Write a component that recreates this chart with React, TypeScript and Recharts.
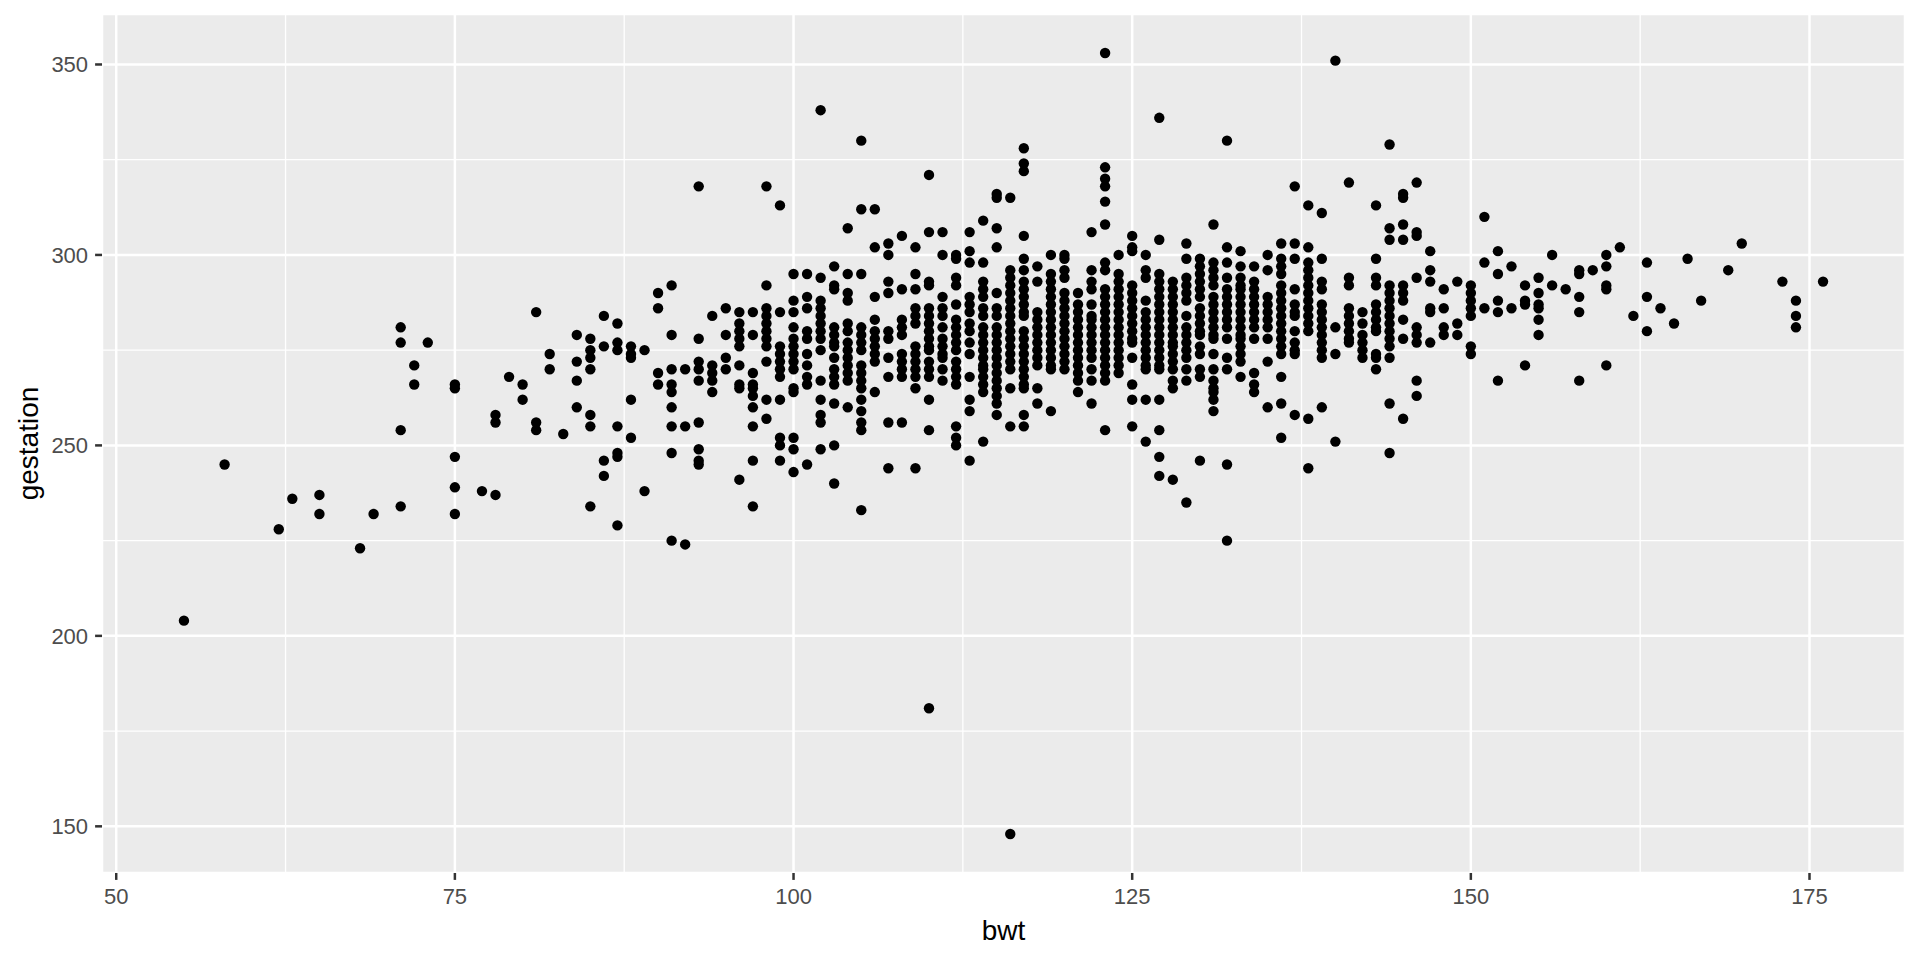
import React from 'react';
import { ScatterChart, Scatter, XAxis, YAxis, CartesianGrid, Label } from 'recharts';

// Birth weight (oz) columns and the gestation values (days) read in each column
const bwtValues = [
  55, 58, 62, 63, 65, 68, 69, 71, 72, 73, 75, 77, 78, 79, 80, 81, 82, 83, 84, 85,
  86, 87, 88, 89, 90, 91, 92, 93, 94, 95, 96, 97, 98, 99, 100, 101, 102, 103, 104, 105,
  106, 107, 108, 109, 110, 111, 112, 113, 114, 115, 116, 117, 118, 119, 120, 121, 122, 123, 124, 125,
  126, 127, 128, 129, 130, 131, 132, 133, 134, 135, 136, 137, 138, 139, 140, 141, 142, 143, 144, 145,
  146, 147, 148, 149, 150, 151, 152, 153, 154, 155, 156, 157, 158, 159, 160, 161, 162, 163, 164, 165,
  166, 167, 169, 170, 173, 174, 176,
];

const gestationValues: number[][] = [
  [204], [245], [228], [236], [237, 232], [223], [232], [281, 277, 254, 234], [271, 266], [277],
  [266, 265, 247, 239, 232], [238], [258, 256, 237], [268], [266, 262], [285, 256, 254], [274, 270], [253],
  [279, 272, 267, 260],
  [278, 275, 273, 270, 258, 255, 234],
  [284, 276, 246, 242],
  [282, 277, 275, 255, 248, 247, 229],
  [276, 274, 273, 262, 252],
  [275, 238],
  [290, 286, 269, 266],
  [292, 279, 270, 266, 264, 260, 255, 248, 225],
  [270, 255, 224],
  [318, 278, 272, 270, 267, 256, 249, 246, 245],
  [284, 271, 269, 267, 264],
  [286, 279, 273, 270],
  [285, 282, 280, 278, 276, 271, 266, 265, 241],
  [285, 279, 269, 266, 265, 263, 260, 255, 246, 234],
  [318, 292, 286, 284, 282, 280, 278, 276, 272, 262, 257],
  [313, 285, 276, 274, 272, 270, 268, 262, 252, 250, 246],
  [295, 288, 285, 281, 278, 276, 274, 272, 270, 265, 264, 252, 249, 243],
  [295, 289, 286, 280, 278, 274, 271, 268, 266, 245],
  [338, 294, 288, 286, 284, 282, 280, 278, 275, 267, 262, 258, 256, 249],
  [297, 292, 291, 281, 279, 277, 276, 273, 270, 268, 266, 261, 250, 240],
  [307, 295, 290, 288, 282, 280, 277, 275, 273, 271, 269, 267, 260],
  [330, 312, 295, 281, 279, 277, 275, 271, 269, 267, 265, 262, 259, 256, 254, 233],
  [312, 302, 289, 283, 280, 278, 276, 274, 272, 264],
  [303, 300, 293, 290, 280, 278, 273, 268, 256, 244],
  [305, 291, 283, 281, 279, 274, 272, 270, 268, 256],
  [302, 295, 291, 286, 284, 282, 276, 274, 272, 270, 268, 265, 244],
  [321, 306, 293, 292, 286, 284, 282, 280, 278, 276, 275, 272, 270, 268, 262, 254, 181],
  [306, 300, 289, 286, 284, 281, 278, 276, 274, 273, 270, 267],
  [300, 299, 294, 292, 287, 283, 281, 279, 277, 275, 272, 270, 268, 266, 255, 252, 250],
  [306, 301, 298, 289, 287, 285, 282, 280, 277, 274, 268, 262, 259, 246],
  [309, 298, 293, 291, 289, 286, 284, 281, 279, 277, 275, 273, 271, 270, 268, 266, 264, 251],
  [316, 315, 307, 302, 290, 286, 284, 281, 279, 277, 275, 273, 271, 269, 267, 265, 263, 261, 258],
  [315, 296, 294, 292, 290, 288, 286, 284, 282, 280, 278, 276, 274, 272, 270, 265, 255, 148],
  [328, 324, 322, 305, 299, 296, 293, 291, 289, 287, 285, 284, 280, 278, 276, 274, 272, 270, 268, 266, 265, 258, 255],
  [297, 293, 285, 283, 281, 279, 277, 275, 273, 271, 265, 261],
  [300, 295, 293, 291, 289, 287, 285, 283, 281, 279, 277, 275, 273, 271, 270, 259],
  [300, 299, 296, 294, 290, 288, 286, 284, 282, 280, 278, 276, 274, 272, 270],
  [290, 287, 285, 283, 281, 279, 277, 275, 273, 271, 269, 267, 264],
  [306, 296, 293, 291, 287, 284, 283, 281, 279, 277, 275, 273, 270, 267, 261],
  [353, 323, 320, 318, 314, 308, 298, 296, 291, 289, 287, 285, 283, 281, 279, 277, 275, 273, 271, 269, 267, 254],
  [300, 295, 293, 291, 289, 287, 285, 283, 281, 279, 277, 275, 273, 271, 269],
  [305, 302, 301, 292, 290, 288, 286, 284, 282, 280, 278, 277, 273, 266, 262, 255],
  [300, 296, 294, 288, 285, 283, 281, 279, 277, 275, 273, 271, 270, 262, 251],
  [336, 304, 295, 293, 291, 289, 287, 285, 283, 281, 279, 277, 275, 273, 271, 270, 262, 254, 247, 242],
  [293, 291, 289, 287, 285, 283, 281, 279, 277, 276, 274, 272, 270, 267, 265, 241],
  [303, 299, 294, 292, 290, 288, 284, 281, 279, 277, 275, 273, 270, 267, 235],
  [299, 297, 295, 293, 291, 289, 286, 284, 282, 280, 279, 276, 274, 270, 268, 246],
  [308, 298, 296, 294, 292, 289, 287, 285, 283, 281, 279, 278, 274, 270, 267, 265, 264, 262, 259],
  [330, 302, 298, 294, 291, 289, 287, 285, 283, 281, 278, 273, 270, 245, 225],
  [301, 297, 294, 292, 291, 289, 287, 285, 283, 281, 279, 278, 276, 274, 272, 268],
  [297, 293, 291, 289, 287, 285, 283, 281, 278, 269, 266, 264],
  [300, 296, 289, 287, 285, 283, 281, 278, 272, 260],
  [303, 299, 297, 295, 292, 290, 288, 286, 284, 282, 280, 278, 276, 274, 268, 261, 252],
  [318, 303, 299, 291, 287, 285, 284, 280, 277, 275, 274, 258],
  [313, 302, 298, 296, 294, 292, 290, 288, 286, 284, 282, 280, 257, 244],
  [311, 299, 293, 291, 287, 285, 283, 281, 279, 277, 275, 273, 260],
  [351, 281, 274, 251],
  [319, 294, 292, 286, 284, 282, 280, 278, 277],
  [285, 282, 279, 277, 275, 273],
  [313, 299, 294, 292, 287, 285, 283, 281, 280, 274, 273, 270],
  [329, 307, 304, 292, 290, 288, 286, 284, 282, 280, 278, 276, 273, 261, 248],
  [316, 315, 308, 304, 292, 290, 288, 283, 278, 257],
  [319, 306, 305, 294, 281, 279, 277, 267, 263],
  [301, 296, 293, 286, 285, 277],
  [291, 286, 281, 279],
  [293, 282, 279],
  [292, 290, 288, 286, 284, 276, 274],
  [310, 298, 286],
  [301, 295, 288, 285, 267],
  [297, 286],
  [292, 288, 287, 271],
  [294, 290, 287, 286, 283, 279],
  [300, 292],
  [291],
  [296, 295, 289, 285, 267],
  [296],
  [300, 297, 292, 291, 271],
  [302],
  [284],
  [298, 289, 280],
  [286],
  [282],
  [299],
  [288],
  [296],
  [303],
  [293],
  [288, 284, 281],
  [293],
];

const xTicks = [50, 75, 100, 125, 150, 175];
const yTicks = [150, 200, 250, 300, 350];
const xMinor = [62.5, 87.5, 112.5, 137.5, 162.5];
const yMinor = [175, 225, 275, 325];

const points = bwtValues.flatMap((b, i) =>
  (gestationValues[i] || []).map((g) => ({ bwt: b, gestation: g }))
);

const FONT = '"Liberation Sans", Arial, Helvetica, sans-serif';

const Dot = (props: any) => {
  const { cx, cy } = props;
  if (cx == null || cy == null) return null;
  return <circle cx={cx} cy={cy} r={5.2} fill="#000000" />;
};

export default function App() {
  return (
    <div style={{ position: 'absolute', left: 0, top: 0, width: 1920, height: 960, background: '#FFFFFF' }}>
      <ScatterChart width={1920} height={960} margin={{ top: 14, right: 15, bottom: 0, left: 0 }}>
        <CartesianGrid
          fill="#EBEBEB"
          fillOpacity={1}
          stroke="#FFFFFF"
          strokeWidth={1.3}
          verticalValues={xMinor}
          horizontalValues={yMinor}
        />
        <CartesianGrid stroke="#FFFFFF" strokeWidth={2.5} fill="none" />
        <XAxis
          dataKey="bwt"
          type="number"
          domain={[48.95, 182.05]}
          allowDataOverflow
          ticks={xTicks}
          interval={0}
          height={87}
          axisLine={false}
          tickSize={6.9}
          tickMargin={8}
          tickLine={{ stroke: '#333333', strokeWidth: 2.5 }}
          tick={{ fill: '#4D4D4D', fontSize: 22, fontFamily: FONT }}
        >
          <Label
            content={() => (
              <text x={1003.5} y={940} textAnchor="middle" fontSize={28} fill="#000000" fontFamily={FONT}>
                bwt
              </text>
            )}
          />
        </XAxis>
        <YAxis
          dataKey="gestation"
          type="number"
          domain={[137.75, 363.25]}
          allowDataOverflow
          ticks={yTicks}
          interval={0}
          width={102}
          axisLine={false}
          tickSize={6.9}
          tickMargin={7}
          tickLine={{ stroke: '#333333', strokeWidth: 2.5 }}
          tick={{ fill: '#4D4D4D', fontSize: 22, fontFamily: FONT }}
        >
          <Label
            content={() => (
              <text
                transform="translate(38,443.5) rotate(-90)"
                textAnchor="middle"
                fontSize={28}
                fill="#000000"
                fontFamily={FONT}
              >
                gestation
              </text>
            )}
          />
        </YAxis>
        <Scatter data={points} shape={<Dot />} fill="#000000" isAnimationActive={false} />
      </ScatterChart>
    </div>
  );
}
